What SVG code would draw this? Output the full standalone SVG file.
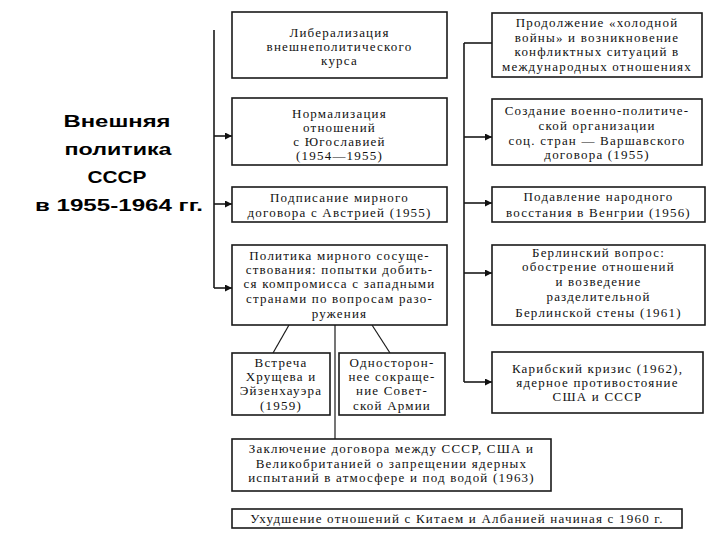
<svg xmlns="http://www.w3.org/2000/svg" width="720" height="540" viewBox="0 0 720 540">
<defs>
<marker id="arr" viewBox="0 0 10 10" refX="10" refY="5" markerWidth="9" markerHeight="7" markerUnits="userSpaceOnUse" orient="auto">
<path d="M0,0 L10,5 L0,10 z" fill="#111"/>
</marker>
<style>
.box{fill:#fff;stroke:#1a1a1a;stroke-width:1.6}
.t{font-family:"Liberation Serif","Times New Roman",serif;font-size:13px;fill:#111;text-anchor:middle;letter-spacing:1.2px}
.title{font-family:"Liberation Sans",Arial,sans-serif;font-weight:bold;font-size:17px;fill:#000;text-anchor:middle}
.ln{stroke:#1a1a1a;stroke-width:1.6;fill:none}
</style>
</defs>
<rect width="720" height="540" fill="#fff"/>

<g id="title">
<text class="title" x="117" y="127" textLength="107" lengthAdjust="spacingAndGlyphs">Внешняя</text>
<text class="title" x="118" y="155" textLength="107" lengthAdjust="spacingAndGlyphs">политика</text>
<text class="title" x="117" y="183" textLength="59" lengthAdjust="spacingAndGlyphs">СССР</text>
<text class="title" x="119" y="211" textLength="168" lengthAdjust="spacingAndGlyphs">в 1955-1964 гг.</text>
</g>

<g id="connectors">
<line class="ln" x1="214" y1="30" x2="214" y2="288"/>
<line class="ln" x1="214" y1="136" x2="232" y2="136" marker-end="url(#arr)"/>
<line class="ln" x1="214" y1="204" x2="232" y2="204" marker-end="url(#arr)"/>
<line class="ln" x1="214" y1="288" x2="232" y2="288" marker-end="url(#arr)"/>
<line class="ln" x1="464" y1="43" x2="464" y2="382"/>
<line class="ln" x1="464" y1="43" x2="492" y2="43"/>
<line class="ln" x1="464" y1="137" x2="492" y2="137" marker-end="url(#arr)"/>
<line class="ln" x1="464" y1="203" x2="492" y2="203" marker-end="url(#arr)"/>
<line class="ln" x1="464" y1="273" x2="492" y2="273" marker-end="url(#arr)"/>
<line class="ln" x1="464" y1="382" x2="492" y2="382" marker-end="url(#arr)"/>
<line class="ln" x1="289" y1="325" x2="273" y2="353" style="stroke-width:1.2"/>
<line class="ln" x1="335" y1="325" x2="335" y2="439" style="stroke-width:1.2"/>
<line class="ln" x1="372" y1="325" x2="390" y2="353" style="stroke-width:1.2"/>
</g>

<g id="n-liberal">
<rect class="box" x="232" y="12" width="215" height="66"/>
<text class="t" x="339.5" y="37">Либерализация</text>
<text class="t" x="339.5" y="51">внешнеполитического</text>
<text class="t" x="339.5" y="65">курса</text>
</g>

<g id="n-yugo">
<rect class="box" x="232" y="98" width="215" height="67"/>
<text class="t" x="339.5" y="118">Нормализация</text>
<text class="t" x="339.5" y="132">отношений</text>
<text class="t" x="339.5" y="146">с Югославией</text>
<text class="t" x="339.5" y="160">(1954—1955)</text>
</g>

<g id="n-austria">
<rect class="box" x="232" y="187" width="215" height="35"/>
<text class="t" x="339.5" y="202">Подписание мирного</text>
<text class="t" x="339.5" y="217">договора с Австрией (1955)</text>
</g>

<g id="n-coexist">
<rect class="box" x="232" y="245" width="215" height="80"/>
<text class="t" x="339.5" y="260">Политика мирного сосуще-</text>
<text class="t" x="339.5" y="274">ствования: попытки добить-</text>
<text class="t" x="339.5" y="288">ся компромисса с западными</text>
<text class="t" x="339.5" y="303">странами по вопросам разо-</text>
<text class="t" x="339.5" y="318">ружения</text>
</g>

<g id="n-meeting">
<rect class="box" x="232" y="353" width="98" height="62"/>
<text class="t" x="281" y="367">Встреча</text>
<text class="t" x="281" y="381">Хрущева и</text>
<text class="t" x="281" y="395">Эйзенхауэра</text>
<text class="t" x="281" y="410">(1959)</text>
</g>

<g id="n-army">
<rect class="box" x="339" y="353" width="106" height="62"/>
<text class="t" x="392" y="367">Односторон-</text>
<text class="t" x="392" y="381">нее сокраще-</text>
<text class="t" x="392" y="395">ние Совет-</text>
<text class="t" x="392" y="410">ской Армии</text>
</g>

<g id="n-treaty">
<rect class="box" x="232" y="439" width="319" height="52"/>
<text class="t" x="391.5" y="453">Заключение договора между СССР, США и</text>
<text class="t" x="391.5" y="468">Великобританией о запрещении ядерных</text>
<text class="t" x="391.5" y="482">испытаний в атмосфере и под водой (1963)</text>
</g>

<g id="n-china">
<rect class="box" x="232" y="509" width="450" height="19"/>
<text class="t" x="457" y="523">Ухудшение отношений с Китаем и Албанией начиная с 1960 г.</text>
</g>

<g id="n-coldwar">
<rect class="box" x="492" y="13" width="210" height="64"/>
<text class="t" x="597" y="27">Продолжение «холодной</text>
<text class="t" x="597" y="42">войны» и возникновение</text>
<text class="t" x="597" y="56">конфликтных ситуаций в</text>
<text class="t" x="597" y="71">международных отношениях</text>
</g>

<g id="n-warsaw">
<rect class="box" x="492" y="99" width="210" height="66"/>
<text class="t" x="597" y="115">Создание военно-политиче-</text>
<text class="t" x="597" y="130">ской организации</text>
<text class="t" x="597" y="145">соц. стран — Варшавского</text>
<text class="t" x="597" y="159">договора (1955)</text>
</g>

<g id="n-hungary">
<rect class="box" x="492" y="187" width="213" height="35"/>
<text class="t" x="598.5" y="201">Подавление народного</text>
<text class="t" x="598.5" y="217">восстания в Венгрии (1956)</text>
</g>

<g id="n-berlin">
<rect class="box" x="492" y="245" width="213" height="80"/>
<text class="t" x="598.5" y="257">Берлинский вопрос:</text>
<text class="t" x="598.5" y="271">обострение отношений</text>
<text class="t" x="598.5" y="286">и возведение</text>
<text class="t" x="598.5" y="301">разделительной</text>
<text class="t" x="598.5" y="317">Берлинской стены (1961)</text>
</g>

<g id="n-cuba">
<rect class="box" x="492" y="352" width="211" height="61"/>
<text class="t" x="597.5" y="373">Карибский кризис (1962),</text>
<text class="t" x="597.5" y="387">ядерное противостояние</text>
<text class="t" x="597.5" y="401">США и СССР</text>
</g>
</svg>
